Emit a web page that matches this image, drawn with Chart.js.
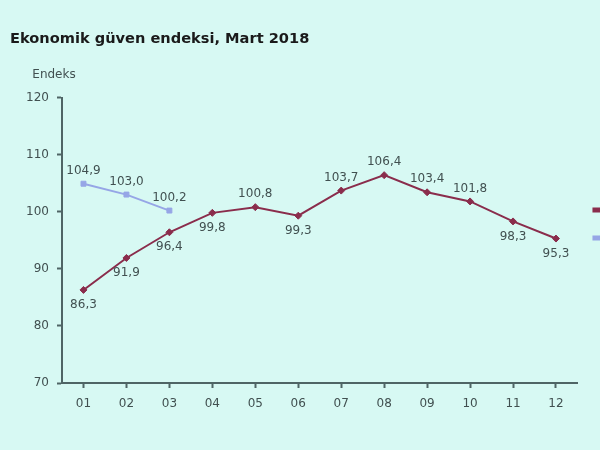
<!DOCTYPE html>
<html>
<head>
<meta charset="utf-8">
<script src="https://cdn.jsdelivr.net/npm/chart.js@4/dist/chart.umd.min.js"></script>
<style>
  html, body { margin: 0; padding: 0; overflow: hidden; background: #d7f9f3; }
  #wrap { width: 660px; height: 450px; }
</style>
</head>
<body>
<div id="wrap"><canvas id="chart"></canvas></div>
<script>
const months = ['01', '02', '03', '04', '05', '06', '07', '08', '09', '10', '11', '12'];
const values2017 = [86.3, 91.9, 96.4, 99.8, 100.8, 99.3, 103.7, 106.4, 103.4, 101.8, 98.3, 95.3];
const values2018 = [104.9, 103.0, 100.2];
const seriesNames = ['2017', '2018'];

// where the value label goes, per point (style only)
const labelSide = [
    ['below', 'below', 'below', 'below', 'above', 'below', 'above', 'above', 'above', 'above', 'below', 'below'],
    ['above', 'above', 'above']
];

const axisColor = '#4f6565';
const textColor = '#415050';
const fontFamily = '"DejaVu Sans", Verdana, sans-serif';

// value labels next to the points
const valueLabels = {
    id: 'valueLabels',
    afterDatasetsDraw(chart) {
        const { ctx } = chart;
        ctx.save();
        ctx.font = '12px ' + fontFamily;
        ctx.fillStyle = textColor;
        ctx.textAlign = 'center';
        ctx.textBaseline = 'middle';
        chart.data.datasets.forEach((ds, i) => {
            const meta = chart.getDatasetMeta(i);
            meta.data.forEach((pt, j) => {
                const txt = ds.data[j].toFixed(1).replace('.', ',');
                const dy = labelSide[i][j] === 'above' ? -13 : 15;
                ctx.fillText(txt, pt.x, pt.y + dy);
            });
        });
        ctx.restore();
    }
};

// "Endeks" above the y axis
const axisUnit = {
    id: 'axisUnit',
    afterDraw(chart) {
        const { ctx, chartArea, scales: { y } } = chart;
        ctx.save();
        ctx.font = '12px ' + fontFamily;
        ctx.fillStyle = textColor;
        ctx.textAlign = 'center';
        ctx.textBaseline = 'middle';
        ctx.fillText('Endeks', y.right - 8, chartArea.top - 23);
        ctx.restore();
    }
};

const data = {
    labels: months,
    datasets: [{
        label: seriesNames[0],
        data: values2017,
        borderColor: '#8a2d4c',
        backgroundColor: '#8a2d4c',
        borderWidth: 2,
        pointStyle: 'rectRot',
        pointRadius: 3.5,
        pointBorderWidth: 1
    }, {
        label: seriesNames[1],
        data: values2018,
        borderColor: '#96a6e6',
        backgroundColor: '#96a6e6',
        borderWidth: 2,
        pointStyle: 'rect',
        pointRadius: 3.5,
        pointBorderWidth: 1
    }]
};

const config = {
    type: 'line',
    data,
    options: {
        responsive: true,
        maintainAspectRatio: false,
        animation: false,
        layout: {
            padding: { top: 0, right: 0, bottom: 2, left: 10 }
        },
        scales: {
            x: {
                offset: true,
                grid: {
                    drawOnChartArea: false,
                    tickLength: 5,
                    tickWidth: 2,
                    tickColor: axisColor
                },
                border: { color: axisColor, width: 2 },
                ticks: {
                    color: textColor,
                    padding: 9,
                    font: { family: fontFamily, size: 12 }
                },
                afterFit(scale) { scale.height = 65; }
            },
            y: {
                min: 70,
                max: 120,
                ticks: {
                    stepSize: 10,
                    color: textColor,
                    padding: 8,
                    font: { family: fontFamily, size: 12 }
                },
                grid: {
                    drawOnChartArea: false,
                    tickLength: 5,
                    tickWidth: 2,
                    tickColor: axisColor
                },
                border: { color: axisColor, width: 2 },
                afterFit(scale) { scale.width = 52; }
            }
        },
        plugins: {
            title: {
                display: true,
                text: 'Ekonomik güven endeksi, Mart 2018',
                align: 'start',
                color: '#1a1a1a',
                font: { family: fontFamily, size: 14.6, weight: 'bold' },
                padding: { top: 30, bottom: 50 }
            },
            legend: {
                position: 'right',
                align: 'center',
                labels: {
                    boxWidth: 20,
                    boxHeight: 3,
                    padding: 16,
                    color: textColor,
                    font: { family: fontFamily, size: 12 }
                }
            },
            tooltip: { enabled: false }
        }
    },
    plugins: [valueLabels, axisUnit]
};

const myChart = new Chart(document.getElementById('chart'), config);
</script>
</body>
</html>
